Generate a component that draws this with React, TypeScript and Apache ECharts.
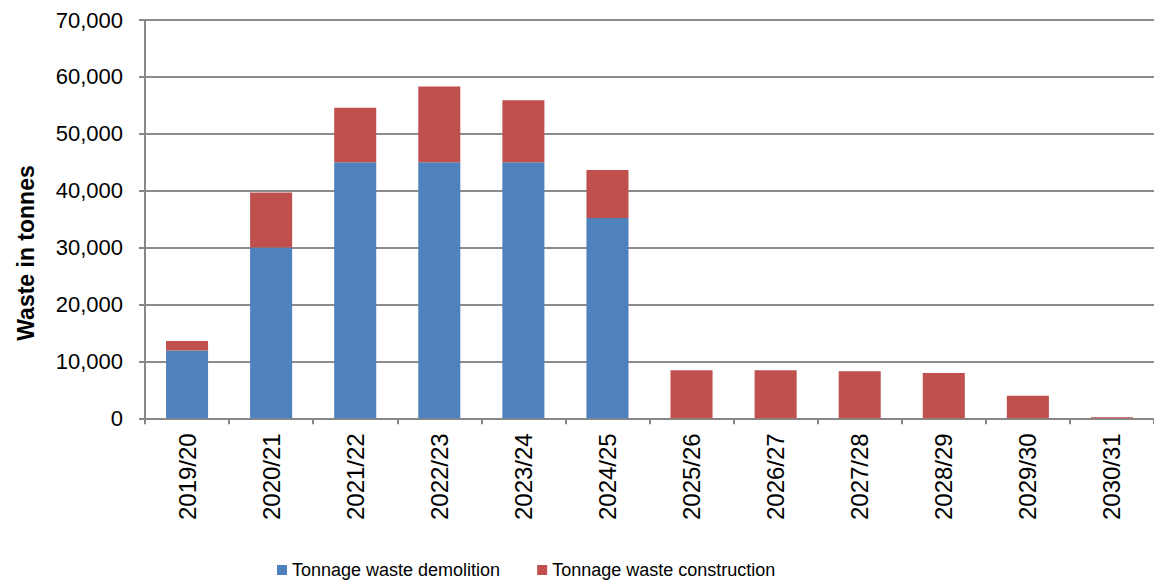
import React, { useEffect, useRef } from "react";
import * as echarts from "echarts";

const categories = ["2019/20", "2020/21", "2021/22", "2022/23", "2023/24", "2024/25", "2025/26", "2026/27", "2027/28", "2028/29", "2029/30", "2030/31"];
const demolition = [11900, 30000, 45000, 45000, 45000, 35200, 0, 0, 0, 0, 0, 0];
const construction = [1700, 9700, 9600, 13300, 10900, 8450, 8450, 8450, 8270, 7970, 3980, 170];
const seriesNames = ["Tonnage waste demolition", "Tonnage waste construction"];
const colors = ["#4F81BD", "#C0504D"];

export default function App() {
  const ref = useRef<HTMLDivElement>(null);
  useEffect(() => {
    document.body.style.margin = "0";
    const chart = echarts.init(ref.current!, null, { renderer: "svg" });
    const font = "Liberation Sans, Arial, sans-serif";
    chart.setOption({
      animation: false,
      color: colors,
      textStyle: { fontFamily: font },
      grid: { left: 145, top: 20, width: 1010, height: 398.3, containLabel: false },
      legend: {
        left: 272,
        top: 556,
        icon: "rect",
        itemWidth: 10,
        itemHeight: 10,
        itemGap: 37,
        textStyle: { fontSize: 18, color: "#000", fontFamily: font },
        data: seriesNames,
      },
      xAxis: {
        type: "category",
        data: categories,
        boundaryGap: true,
        axisLine: { lineStyle: { color: "#878787", width: 2 } },
        axisTick: { show: true, length: 6, alignWithLabel: false, lineStyle: { color: "#878787", width: 2 } },
        axisLabel: { rotate: 90, margin: 15, fontSize: 24, color: "#000", fontFamily: font, interval: 0 },
      },
      yAxis: {
        type: "value",
        min: 0,
        max: 70000,
        interval: 10000,
        axisLine: { show: true, lineStyle: { color: "#878787", width: 2 } },
        axisTick: { show: true, length: 6, lineStyle: { color: "#878787", width: 2 } },
        splitLine: { show: true, lineStyle: { color: "#8c8c8c", width: 2 } },
        axisLabel: {
          margin: 22,
          fontSize: 22,
          color: "#000",
          fontFamily: font,
          formatter: (v: number) => v.toLocaleString("en-US"),
        },
      },
      graphic: [
        {
          type: "text",
          x: 26,
          y: 253,
          rotation: Math.PI / 2,
          style: {
            text: "Waste in tonnes",
            fontSize: 23,
            fontWeight: "bold",
            fontFamily: font,
            fill: "#000",
            textAlign: "center",
            textVerticalAlign: "middle",
          },
        },
      ],
      series: [
        {
          name: seriesNames[0],
          type: "bar",
          stack: "total",
          data: demolition,
          barWidth: "50%",
          itemStyle: { color: colors[0] },
        },
        {
          name: seriesNames[1],
          type: "bar",
          stack: "total",
          data: construction,
          barWidth: "50%",
          itemStyle: { color: colors[1] },
        },
      ],
    });
    return () => chart.dispose();
  }, []);
  return <div ref={ref} style={{ width: 1154, height: 586 }} />;
}
